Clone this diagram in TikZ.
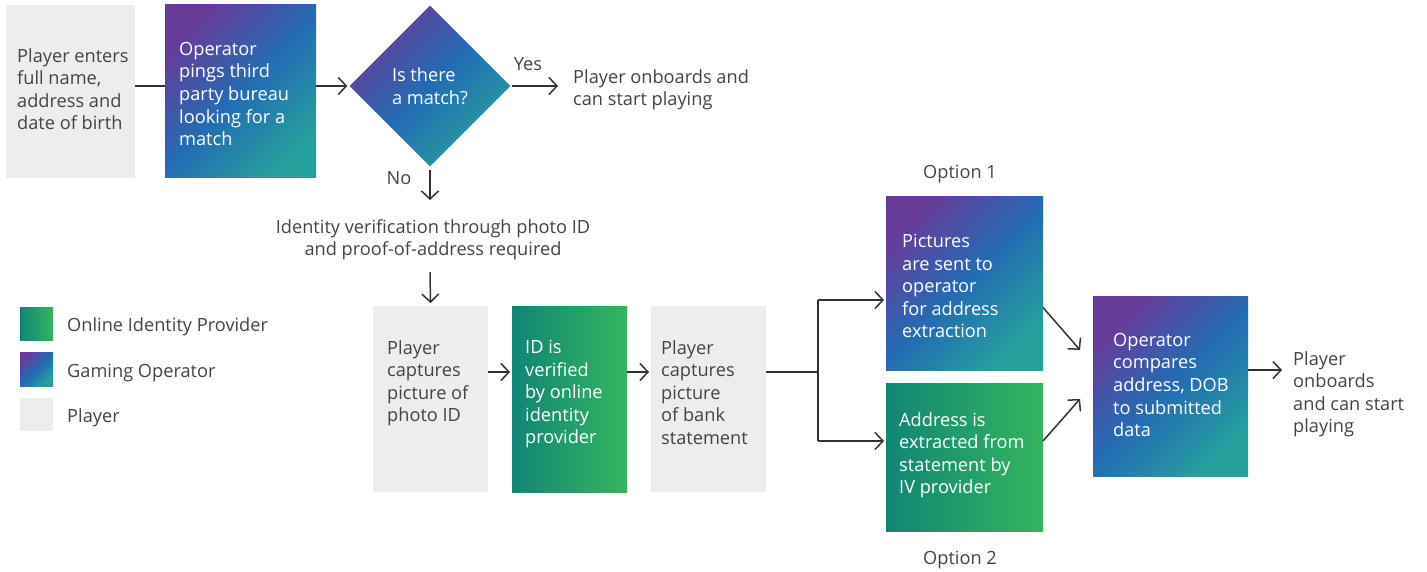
\documentclass[tikz,border=0pt]{standalone}
\usepackage{fontspec}
\setmainfont{Open Sans}
\usetikzlibrary{shapes.geometric,arrows.meta}
\definecolor{txtc}{HTML}{444444}
\definecolor{linec}{HTML}{333333}
\definecolor{plgray}{HTML}{EDEDED}
\definecolor{opP}{HTML}{673C99}
\definecolor{opB}{HTML}{246BB4}
\definecolor{opT}{HTML}{25A09D}
\definecolor{grL}{HTML}{118576}
\definecolor{grR}{HTML}{34B55E}
\tikzset{
  box/.style={anchor=north west, inner sep=0, outer sep=0},
  playerbox/.style={box, fill=plgray},
  opbox/.style={box, top color=opP, bottom color=opT, middle color=opB, shading angle=45},
  grbox/.style={box, left color=grL, right color=grR},
  txt/.style={align=left, inner sep=0, anchor=north west, text=txtc, font=\fontsize{18.2}{22.6}\selectfont},
  wtxt/.style={txt, text=white},
  lbl/.style={inner sep=0, text=txtc, font=\fontsize{18.2}{22.6}\selectfont},
  conn/.style={draw=linec, line width=1.5pt},
  arr/.style={conn, -{Straight Barb[length=8pt,width=17pt]}},
}
\begin{document}
\begin{tikzpicture}[x=1pt,y=-1pt]
\useasboundingbox (0,0) rectangle (1427,572);
% row 1
\node[playerbox, minimum width=129, minimum height=173] (p1) at (6,5) {};
\node[opbox, minimum width=151, minimum height=173] (op1) at (165,5) {};
\node[txt] (t1) at (17,48) {Player enters\\full name,\\address and\\date of birth};
\node[wtxt] (t2) at (179,42) {Operator\\pings third\\party bureau\\looking for a\\match};
\node[diamond, draw=none, top color=opP, bottom color=opT, middle color=opB, shading angle=45,
      minimum width=161, minimum height=161, inner sep=0, align=left, text=white,
      font=\fontsize{18.2}{22.6}\selectfont] (dm) at (430,86) {Is there\\a match?};
\node[lbl] (yes) at (528,64) {Yes};
\node[txt] (ok1) at (573,69) {Player onboards and\\can start playing};
\node[lbl] (no) at (399,178) {No};
\node[lbl, align=center, anchor=north] (idt) at (433,219) {Identity verification through photo ID\\and proof-of-address required};
% row 2
\node[playerbox, minimum width=115, minimum height=186] (pb1) at (373,306) {};
\node[grbox, minimum width=115, minimum height=186] (gr1) at (512,306) {};
\node[playerbox, minimum width=115, minimum height=186] (pb2) at (651,306) {};
\node[txt] (t3) at (387,340) {Player\\captures\\picture of\\photo ID};
\node[wtxt] (t4) at (525,340) {ID is\\verified\\by online\\identity\\provider};
\node[txt] (t5) at (661,340) {Player\\captures\\picture\\of bank\\statement};
% options
\node[lbl] (o1) at (960,174) {Option 1};
\node[opbox, minimum width=157, minimum height=173] (op2) at (886,197) {};
\node[wtxt] (t6) at (902,234) {Pictures\\are sent to\\operator\\for address\\extraction};
\node[grbox, minimum width=157, minimum height=148] (gr2) at (886,383) {};
\node[wtxt] (t7) at (899,412) {Address is\\extracted from\\statement by\\IV provider};
\node[lbl] (o2) at (960,560) {Option 2};
\node[opbox, minimum width=155, minimum height=180] (op3) at (1093,296) {};
\node[wtxt] (t8) at (1113,333) {Operator\\compares\\address, DOB\\to submitted\\data};
\node[txt] (t9) at (1293,351) {Player\\onboards\\and can start\\playing};
% legend
\node[grbox, minimum width=33, minimum height=33] (lg1) at (20,307) {};
\node[opbox, minimum width=33, minimum height=34] (lg2) at (20,352) {};
\node[playerbox, minimum width=33, minimum height=33] (lg3) at (20,398) {};
\node[lbl, anchor=west] (lt1) at (67,327) {Online Identity Provider};
\node[lbl, anchor=west] (lt2) at (67,373) {Gaming Operator};
\node[lbl, anchor=west] (lt3) at (67,418) {Player};
% connectors
\coordinate (rowy) at (0,372);
\coordinate (split) at (818,372);
\coordinate (sp1) at (818,300);
\coordinate (sp2) at (818,441);
\coordinate (endy) at (0,370);
\coordinate (noend) at (430,200);
\coordinate (idbot) at (430,272);
\draw[conn] (p1.east |- dm) -- (op1.west |- dm);
\draw[arr] (op1.east |- dm) -- ([xshift=-2]dm.west);
\draw[arr] ([xshift=1]dm.east) -- ([xshift=-15]ok1.west |- dm);
\draw[arr] ([yshift=-3]dm.south) -- (noend);
\draw[arr] (idbot) -- ([yshift=3]pb1.north);
\draw[arr] (pb1.east |- rowy) -- ([xshift=-2]gr1.west |- rowy);
\draw[arr] (gr1.east |- rowy) -- ([xshift=-2]pb2.west |- rowy);
\draw[conn] (pb2.east |- rowy) -- (split);
\draw[conn] (sp1) -- (sp2);
\draw[arr] (sp1) -- ([xshift=-2]op2.west |- sp1);
\draw[arr] (sp2) -- ([xshift=-2]gr2.west |- sp2);
\draw[arr] ([yshift=-24]op2.east) -- ([xshift=-13,yshift=36]op3.west);
\draw[arr] ([yshift=16]gr2.east) -- ([xshift=-13,yshift=-13]op3.west);
\draw[arr] ([yshift=16]op3.east) -- ([xshift=-11]t9.west |- endy);
\end{tikzpicture}
\end{document}
